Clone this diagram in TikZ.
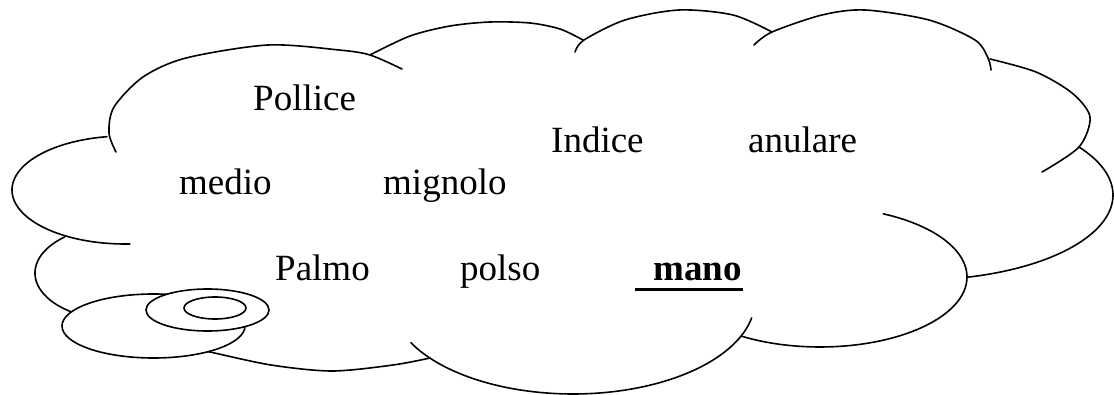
\documentclass[tikz,border=0pt]{standalone}
\usepackage{fontspec}
\setmainfont{Liberation Serif}
\begin{document}
\begin{tikzpicture}[x=1pt,y=-1pt,
  cloudline/.style={line width=1.6pt, line join=round, line cap=round},
  lbl/.style={anchor=base west, inner sep=0pt, font=\fontsize{37}{44}\selectfont},
  bubble/.style={line width=1.6pt, fill=white}]
\useasboundingbox (0,0) rectangle (1114,395);
% cloud lobes
\draw[cloudline] plot[smooth] coordinates {(116,152) (109,133) (114,107) (143,77) (186,58) (268,45) (339,50) (370,55) (402,69)};
\draw[cloudline] plot[smooth] coordinates {(370,55) (410,36) (450,26) (490,22) (530,23) (560,29) (583,40)};
\draw[cloudline] plot[smooth] coordinates {(575,52) (584,40) (625,20) (679,10) (733,15) (772,32)};
\draw[cloudline] plot[smooth] coordinates {(754,45) (772,32) (822,15) (865,10) (929,20) (975,40) (988,58) (991,70)};
\draw[cloudline] plot[smooth] coordinates {(990,59) (1036,72) (1072,93) (1090,117) (1079,147) (1042,172)};
% right lobe
\draw[cloudline] plot[domain=-34.4:75.4, samples=60] ({918+195*cos(\x)}, {195+85*sin(\x)});
% lower right lobe
\draw[cloudline] plot[domain=-64.5:122.4, samples=80] ({820+147*cos(\x)}, {277+70*sin(\x)});
% bottom lobe
\draw[cloudline] plot[domain=11:153, samples=80] ({573+182*cos(\x)}, {300+94*sin(\x)});
% bottom left lobe
\draw[cloudline] plot[smooth] coordinates {(195,349) (210,352) (271,365) (332,371) (393,365) (430,358)};
% left lobe
\draw[cloudline] plot[domain=87.5:260.8, samples=80] ({125+113*cos(\x)}, {190+54*sin(\x)});
% lower left lobe
\draw[cloudline] plot[domain=120:230, samples=50] ({118+83*cos(\x)}, {273+47*sin(\x)});
% thought bubbles
\draw[bubble] (153.5,326) ellipse [x radius=91.5, y radius=32];
\draw[bubble] (207.5,310) ellipse [x radius=61.5, y radius=21];
\draw[bubble] (215,308) ellipse [x radius=31, y radius=11];
% labels
\node[lbl] (pollice) at (253,111) {Pollice};
\node[lbl] (indice) at (551,153) {Indice};
\node[lbl] (anulare) at (748,153) {anulare};
\node[lbl] (medio) at (179,195) {medio};
\node[lbl] (mignolo) at (383,195) {mignolo};
\node[lbl] (palmo) at (275,281) {Palmo};
\node[lbl] (polso) at (460,281) {polso};
\node[lbl, font=\fontsize{37}{44}\selectfont\bfseries] (mano) at (653,281) {mano};
\draw[line width=3pt] (635,290) -- (743,290);
\end{tikzpicture}
\end{document}
